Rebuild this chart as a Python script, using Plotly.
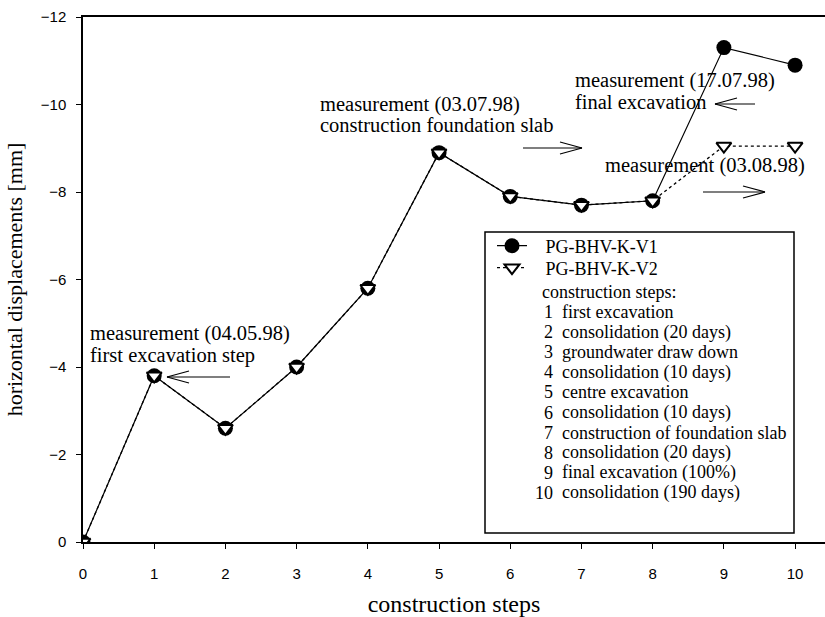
import plotly.graph_objects as go

# ---- data ----
steps = [0, 1, 2, 3, 4, 5, 6, 7, 8, 9, 10]
v1_name = "PG-BHV-K-V1"
v2_name = "PG-BHV-K-V2"
v1 = [0, -3.8, -2.6, -4.0, -5.8, -8.9, -7.9, -7.7, -7.8, -11.3, -10.9]
v2 = [0, -3.8, -2.6, -4.0, -5.8, -8.9, -7.9, -7.7, -7.8, -9.05, -9.05]
x_ticks = [0, 1, 2, 3, 4, 5, 6, 7, 8, 9, 10]
y_ticks = [0, -2, -4, -6, -8, -10, -12]
step_numbers = ["1", "2", "3", "4", "5", "6", "7", "8", "9", "10"]
step_labels = ["first excavation", "consolidation (20 days)", "groundwater draw down",
               "consolidation (10 days)", "centre excavation", "consolidation (10 days)",
               "construction of foundation slab", "consolidation (20 days)",
               "final excavation (100%)", "consolidation (190 days)"]

SERIF = "Liberation Serif, Times New Roman, serif"
SANS = "Liberation Sans, Arial, sans-serif"

# plot area in pixels
L, R, T, B = 83, 825, 17, 542
W, H = R - L, B - T


def px(x):
    return (x - L) / W


def py(y):
    return (B - y) / H


NB = "\u00a0\u00a0\u00a0"
fig = go.Figure()
fig.add_trace(go.Scatter(
    x=steps, y=v1, name=NB + v1_name, mode="lines+markers", legend="legend",
    line=dict(color="black", width=1.2),
    marker=dict(symbol="circle", size=15, color="black"),
))
fig.add_trace(go.Scatter(
    x=steps, y=v2, name=NB + v2_name, mode="lines+markers", legend="legend2",
    line=dict(color="black", width=1.3, dash="dot"),
    marker=dict(symbol="triangle-down", size=13, color="white",
                line=dict(color="black", width=2)),
))

annotations = []
texts = [
    ("measurement (04.05.98)", 88, 333),
    ("first excavation step", 88, 355),
    ("measurement (03.07.98)", 318, 104),
    ("construction foundation slab", 318, 125),
    ("measurement (17.07.98)", 573, 80),
    ("final excavation", 573, 102),
    ("measurement (03.08.98)", 603, 165),
]
for t, x, y in texts:
    annotations.append(dict(text=t, x=px(x), y=py(y), xref="paper", yref="paper",
                            xanchor="left", yanchor="middle", showarrow=False,
                            font=dict(family=SERIF, size=20.5, color="black")))

# construction step list inside legend box
annotations.append(dict(text="construction steps:", x=px(540), y=py(292), xref="paper", yref="paper",
                        xanchor="left", yanchor="middle", showarrow=False,
                        font=dict(family=SERIF, size=18, color="black")))
for i, (n, lab) in enumerate(zip(step_numbers, step_labels)):
    yy = 312 + 20.1 * i
    annotations.append(dict(text=n, x=px(555), y=py(yy), xref="paper", yref="paper",
                            xanchor="right", yanchor="middle", showarrow=False,
                            font=dict(family=SERIF, size=18, color="black")))
    annotations.append(dict(text=lab, x=px(560), y=py(yy), xref="paper", yref="paper",
                            xanchor="left", yanchor="middle", showarrow=False,
                            font=dict(family=SERIF, size=18, color="black")))

shapes = []
# legend box
shapes.append(dict(type="rect", xref="paper", yref="paper", x0=px(485), x1=px(794),
                   y0=py(533), y1=py(232), line=dict(color="black", width=1.5)))


def arrow(x_from, x_to, y, head=22, half=6):
    d = 1 if x_to > x_from else -1
    lines = [(x_from, y, x_to, y),
             (x_to, y, x_to - d * head, y - half),
             (x_to, y, x_to - d * head, y + half)]
    for x0, y0, x1, y1 in lines:
        shapes.append(dict(type="line", xref="paper", yref="paper",
                           x0=px(x0), y0=py(y0), x1=px(x1), y1=py(y1),
                           line=dict(color="black", width=1.2)))


arrow(230, 167, 377)
arrow(523, 582, 148)
arrow(755, 715, 104)
arrow(703, 765, 192)

legend_common = dict(xanchor="left", yanchor="middle", bgcolor="rgba(0,0,0,0)", borderwidth=0,
                     font=dict(family=SERIF, size=18, color="black"), itemwidth=30)

fig.update_layout(
    width=825, height=617,
    margin=dict(l=L, r=825 - R, t=T, b=617 - B),
    paper_bgcolor="white", plot_bgcolor="white",
    showlegend=True,
    legend=dict(x=px(492), y=py(246), **legend_common),
    legend2=dict(x=px(492), y=py(268), **legend_common),
    annotations=annotations,
    shapes=shapes,
    xaxis=dict(range=[0, 10.42], tickvals=x_ticks, ticks="outside", ticklen=5,
               tickwidth=1.2, tickcolor="black", showline=True, linecolor="black",
               linewidth=1.5, mirror=True, showgrid=False, zeroline=False,
               ticklabelstandoff=12,
               tickfont=dict(family=SANS, size=15, color="black"),
               title=dict(text="construction steps", standoff=14,
                          font=dict(family=SERIF, size=24, color="black"))),
    yaxis=dict(range=[0, -12], tickvals=y_ticks, ticks="outside", ticklen=5,
               tickwidth=1.2, tickcolor="black", showline=True, linecolor="black",
               linewidth=1.5, mirror=False, showgrid=False, zeroline=False,
               ticklabelstandoff=7,
               tickfont=dict(family=SANS, size=15, color="black"),
               title=dict(text="horizontal displacements [mm]", standoff=12,
                          font=dict(family=SERIF, size=22, color="black"))),
)

fig.write_html("out.html", config={"displayModeBar": False},
               post_script="document.body.style.margin='0px';")
